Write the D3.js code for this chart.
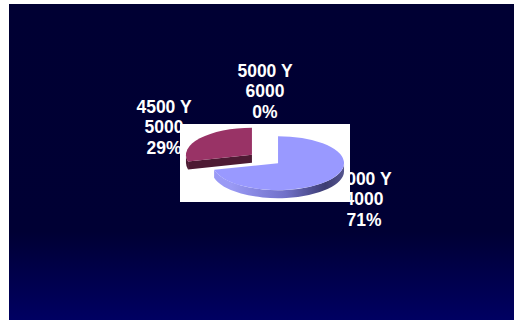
<!DOCTYPE html>
<html>
<head>
<meta charset="utf-8">
<script src="https://cdn.jsdelivr.net/npm/d3@7"></script>
<style>
  html, body { margin: 0; padding: 0; background: #ffffff; }
  svg { display: block; }
</style>
</head>
<body>
<svg id="chart" width="516" height="323"></svg>
<script>
// Slice data: category names, amounts and share of the pie (percent)
const categories = ["7000 Y", "4500 Y", "5000 Y"];
const amounts = ["4000", "5000", "6000"];
const shares = [71, 29, 0];
const sliceColors = ["#9999ff", "#993366", "#ffffcc"];
const sideColors = ["#5c5ca8", "#4d1a33", "#99997a"];

const svg = d3.select("#chart");
const W = 516, H = 323;

// Backdrop
const defs = svg.append("defs");
const bg = defs.append("linearGradient").attr("id", "bg")
  .attr("x1", 0).attr("y1", 0).attr("x2", 0).attr("y2", 1);
bg.append("stop").attr("offset", 0).attr("stop-color", "#000033");
bg.append("stop").attr("offset", 0.72).attr("stop-color", "#000034");
bg.append("stop").attr("offset", 1).attr("stop-color", "#000062");

const frame = { x0: 9, y0: 4, x1: 514, y1: 320 };
svg.append("rect")
  .attr("x", frame.x0).attr("y", frame.y0)
  .attr("width", frame.x1 - frame.x0).attr("height", frame.y1 - frame.y0)
  .attr("fill", "url(#bg)");

// Pie geometry (tilted ellipse with a thin rim)
const center = { x: 265, y: 159 };
const rx = 66, ry = 27, depth = 8, explode = 0.25;

const pie = d3.pie().sort(null).value(d => d)(shares);

// Data labels, laid out around the pie (drawn under the plot area)
const labelPos = [
  { x: 364, y: 185 },
  { x: 164, y: 113 },
  { x: 265, y: 77 }
];
const lineGap = 20.3;
const labels = svg.append("g")
  .attr("font-family", "Liberation Sans, Arial, sans-serif")
  .attr("font-weight", "bold")
  .attr("font-size", "17.5px")
  .attr("fill", "#ffffff")
  .attr("text-anchor", "middle");
pie.forEach((d, i) => {
  const t = labels.append("text").attr("x", labelPos[i].x).attr("y", labelPos[i].y);
  const lines = [categories[i], amounts[i], d3.format(".0%")(shares[i] / 100)];
  lines.forEach((s, k) => {
    t.append("tspan").attr("x", labelPos[i].x).attr("y", labelPos[i].y + k * lineGap).text(s);
  });
});

// Plot area
svg.append("rect")
  .attr("x", 180).attr("y", 124).attr("width", 170).attr("height", 78)
  .attr("fill", "#ffffff");

// Rim shading for the blue slice
const rimGrad = defs.append("linearGradient").attr("id", "rim0")
  .attr("gradientUnits", "userSpaceOnUse")
  .attr("x1", center.x - rx).attr("x2", center.x + rx + 26).attr("y1", 0).attr("y2", 0);
rimGrad.append("stop").attr("offset", 0.2).attr("stop-color", "#9a9af5");
rimGrad.append("stop").attr("offset", 0.55).attr("stop-color", "#7070c8");
rimGrad.append("stop").attr("offset", 0.8).attr("stop-color", "#3c3c72");
rimGrad.append("stop").attr("offset", 0.92).attr("stop-color", "#55558f");

const arc = d3.arc().innerRadius(0).outerRadius(rx);

function sliceCenter(d) {
  const m = (d.startAngle + d.endAngle) / 2;
  return {
    x: center.x + explode * rx * Math.sin(m),
    y: center.y - explode * ry * Math.cos(m)
  };
}
function pt(c, a, dy) {
  return [c.x + rx * Math.sin(a), c.y - ry * Math.cos(a) + dy];
}

const pieG = svg.append("g");
const order = pie.map((d, i) => ({ d, i, c: sliceCenter(d) }))
  .filter(o => o.d.endAngle - o.d.startAngle > 1e-6)
  .sort((a, b) => a.c.y - b.c.y);

order.forEach(({ d, i, c }) => {
  const g = pieG.append("g");
  const a0 = d.startAngle, a1 = d.endAngle;

  // radial walls that face the viewer
  [[a0, a0 - Math.PI / 2], [a1, a1 + Math.PI / 2]].forEach(([a, n]) => {
    if (Math.cos(n) < -1e-6) {
      const p = pt(c, a, 0), q = pt(c, a, depth);
      g.append("path")
        .attr("d", `M${c.x},${c.y}L${p[0]},${p[1]}L${q[0]},${q[1]}L${c.x},${c.y + depth}Z`)
        .attr("fill", sideColors[i]);
    }
  });

  // front rim
  const s = Math.max(a0, Math.PI / 2), e = Math.min(a1, 3 * Math.PI / 2);
  if (e > s) {
    const p0 = pt(c, s, 0), p1 = pt(c, e, 0), q1 = pt(c, e, depth), q0 = pt(c, s, depth);
    const large = e - s > Math.PI ? 1 : 0;
    g.append("path")
      .attr("d", `M${p0[0]},${p0[1]}A${rx},${ry} 0 ${large} 1 ${p1[0]},${p1[1]}` +
                 `L${q1[0]},${q1[1]}A${rx},${ry} 0 ${large} 0 ${q0[0]},${q0[1]}Z`)
      .attr("fill", i === 0 ? "url(#rim0)" : sideColors[i]);
  }

  // top face
  g.append("path")
    .attr("transform", `translate(${c.x},${c.y}) scale(1,${ry / rx})`)
    .attr("d", arc(d))
    .attr("fill", sliceColors[i]);
});
</script>
</body>
</html>
